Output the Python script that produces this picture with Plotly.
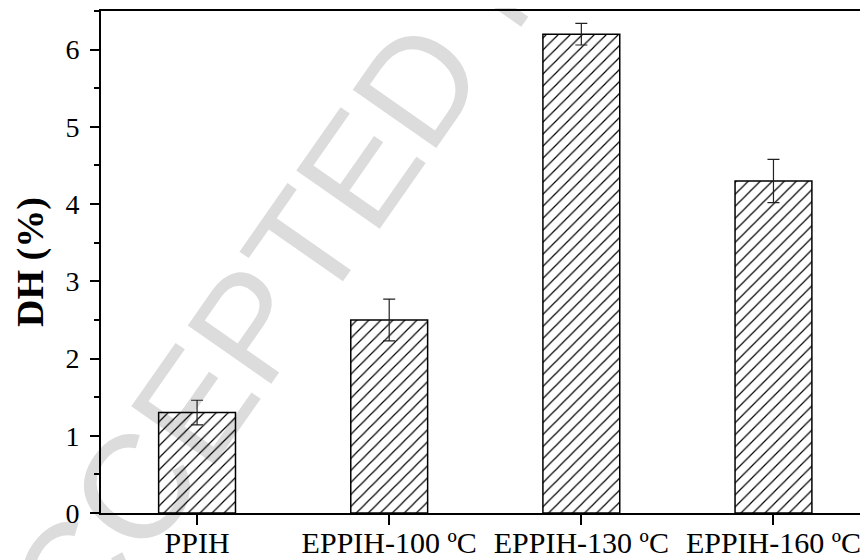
import plotly.graph_objects as go

categories = ["PPIH", "EPPIH-100 \u00baC", "EPPIH-130 \u00baC", "EPPIH-160 \u00baC"]
dh_values = [1.30, 2.50, 6.20, 4.30]
dh_errors = [0.16, 0.27, 0.14, 0.28]
y_tick_values = [0, 1, 2, 3, 4, 5, 6]
y_tick_labels = ["0", "1", "2", "3", "4", "5", "6"]
y_title = "DH (%)"
watermark = "ACCEPTED MANUSCRIPT"

SERIF = "Liberation Serif, Times New Roman, serif"

fig = go.Figure()
fig.add_trace(go.Bar(
    x=categories,
    y=dh_values,
    width=0.4,
    marker=dict(
        color="black",
        line=dict(color="black", width=1.5),
        pattern=dict(shape="/", size=8.5, solidity=0.14, fgcolor="black",
                     bgcolor="rgba(0,0,0,0)", fillmode="replace"),
    ),
    error_y=dict(type="data", array=dh_errors, visible=True,
                 color="#222222", thickness=1.2, width=6),
    showlegend=False,
))

fig.add_shape(
    type="rect", xref="paper", yref="paper",
    x0=0.418, x1=0.618, y0=1.031, y1=1.231,
    line=dict(width=0), fillcolor="rgba(0,0,0,0)", layer="below",
    label=dict(text=watermark, textangle=-55, textposition="middle center",
               font=dict(family="Liberation Sans, Arial", size=148, color="#dcdcdc")),
)

# page body has an 8px default margin, so the figure is 8px smaller
fig.update_layout(
    template="none",
    width=860, height=552,
    margin=dict(l=93, r=0, t=3, b=47),
    paper_bgcolor="white",
    plot_bgcolor="rgba(0,0,0,0)",
    font=dict(family=SERIF, color="black"),
)

fig.update_xaxes(
    range=[-0.5, 3.492],
    showline=True, linecolor="black", linewidth=2, mirror=True,
    ticks="outside", ticklen=10, tickwidth=2, tickcolor="black",
    tickfont=dict(size=30, family=SERIF),
    ticklabelstandoff=-8,
    showgrid=False, zeroline=False,
)

fig.update_yaxes(
    range=[0, 6.5],
    tickvals=y_tick_values, ticktext=y_tick_labels,
    showline=True, linecolor="black", linewidth=2, mirror=False,
    ticks="outside", ticklen=9, tickwidth=2, tickcolor="black",
    minor=dict(dtick=0.5, ticks="outside", ticklen=5, tickwidth=2, tickcolor="black", showgrid=False),
    tickfont=dict(size=28, family=SERIF),
    ticklabelstandoff=5,
    title=dict(text="<b>" + y_title + "</b>", font=dict(size=38, family=SERIF), standoff=10),
    showgrid=False, zeroline=False,
)

fig.write_html("out.html")
